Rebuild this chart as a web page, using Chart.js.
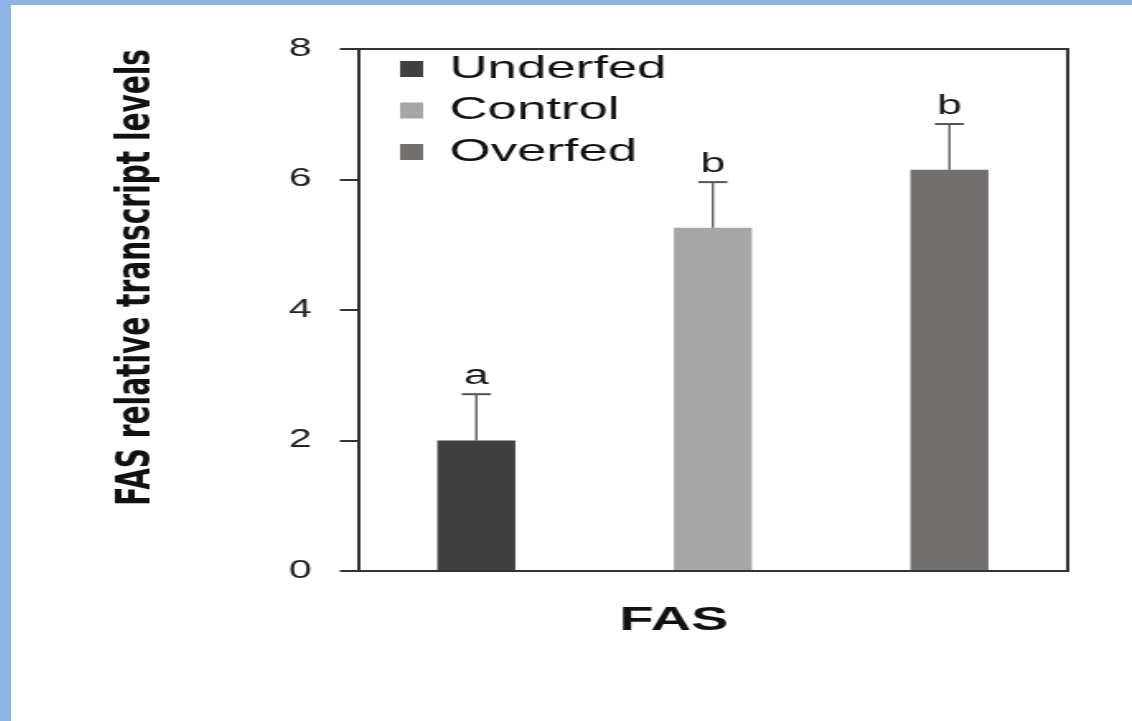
<!DOCTYPE html>
<html>
<head>
<meta charset="utf-8">
<title>FAS</title>
<script src="https://cdn.jsdelivr.net/npm/chart.js@4.4.1/dist/chart.umd.min.js"></script>
<style>
	html, body { margin: 0; padding: 0; background: #8eb4e3; }
	#frame {
		position: absolute; left: 11px; top: 5px;
		width: 1121px; height: 716px;
		background: #ffffff; overflow: hidden;
	}
	/* the figure is drawn narrow and widened sideways */
	#fasChart {
		position: absolute; left: 0; top: 0;
		width: 680px; height: 716px;
		transform-origin: 0 0;
		transform: scaleX(1.6485);
	}
</style>
</head>
<body>
<div id="frame"><canvas id="fasChart" width="680" height="716"></canvas></div>
<script>
// groups, means, error (upper) and letters of significance
const groups = ['Underfed', 'Control', 'Overfed'];
const meanLevels = [2.0, 5.26, 6.15];
const errLevels = [0.71, 0.70, 0.70];
const sigLetters = ['a', 'b', 'b'];
const groupColors = ['#404040', '#a6a6a6', '#747070'];
const yTicks = [0, 2, 4, 6, 8];

Chart.defaults.font.family = '"Liberation Sans", Arial, sans-serif';
Chart.defaults.color = '#1a1a1a';

// one dataset per group so the legend lists all three
const datasets = groups.map(function(name, i) {
	return {
		label: name,
		data: groups.map(function(_, j) { return j === i ? meanLevels[i] : null; }),
		backgroundColor: groupColors[i],
		borderColor: groupColors[i],
		borderWidth: 0,
		barPercentage: 0.33,
		categoryPercentage: 1.0,
		skipNull: true
	};
});

// error bars and letters above every bar
const errorBars = {
	id: 'errorBars',
	afterDatasetsDraw: function(chart) {
		const ctx = chart.ctx;
		const yScale = chart.scales.y;
		ctx.save();
		groups.forEach(function(_, i) {
			const bar = chart.getDatasetMeta(i).data[i];
			if (!bar) return;
			const x = bar.x;
			const yTop = yScale.getPixelForValue(meanLevels[i] + errLevels[i]);
			ctx.strokeStyle = '#555555';
			ctx.lineWidth = 1.3;
			ctx.beginPath();
			ctx.moveTo(x, bar.y);
			ctx.lineTo(x, yTop);
			ctx.stroke();
			ctx.lineWidth = 2;
			ctx.beginPath();
			ctx.moveTo(x - 8.8, yTop);
			ctx.lineTo(x + 8.8, yTop);
			ctx.stroke();
			ctx.fillStyle = '#1a1a1a';
			ctx.font = '27px "Liberation Sans", Arial, sans-serif';
			ctx.textAlign = 'center';
			ctx.textBaseline = 'bottom';
			ctx.fillText(sigLetters[i], x, yTop - 4);
		});
		ctx.restore();
	}
};

// top and right sides of the box
const boxFrame = {
	id: 'boxFrame',
	afterDraw: function(chart) {
		const a = chart.chartArea;
		const ctx = chart.ctx;
		ctx.save();
		ctx.strokeStyle = '#333333';
		ctx.lineWidth = 2;
		ctx.beginPath();
		ctx.moveTo(a.left, a.top);
		ctx.lineTo(a.right, a.top);
		ctx.stroke();
		ctx.beginPath();
		ctx.moveTo(a.right, a.top - 1);
		ctx.lineTo(a.right, a.bottom);
		ctx.stroke();
		ctx.restore();
	}
};

// place the legend inside the box, a little in from the corner
const legendNudge = {
	id: 'legendNudge',
	afterLayout: function(chart) {
		const lg = chart.legend;
		if (!lg) return;
		const a = chart.chartArea;
		const h = lg.bottom - lg.top;
		const w = lg.right - lg.left;
		lg.left = a.left + 16;
		lg.right = lg.left + w;
		lg.top = a.top - 5.5;
		lg.bottom = lg.top + h;
	}
};

new Chart(document.getElementById('fasChart'), {
	type: 'bar',
	data: { labels: groups, datasets: datasets },
	plugins: [legendNudge, errorBars, boxFrame],
	options: {
		responsive: false,
		animation: false,
		devicePixelRatio: 1,
		layout: { padding: { left: 0, right: 39, top: 44, bottom: 0 } },
		plugins: {
			tooltip: { enabled: false },
			legend: {
				position: 'chartArea',
				align: 'start',
				labels: {
					boxWidth: 14,
					boxHeight: 16,
					padding: 9.5,
					color: '#111111',
					font: { size: 32 }
				}
			}
		},
		scales: {
			x: {
				ticks: { display: false },
				grid: { display: false },
				border: { color: '#333333', width: 2 },
				title: {
					display: true,
					// trailing spaces pull the word a bit left of centre
					text: 'FAS     ',
					color: '#111111',
					font: { size: 34, weight: 'bold' },
					padding: { top: 0, bottom: 80 }
				},
				afterFit: function(scale) { scale.height = 150; }
			},
			y: {
				min: 0,
				max: 8,
				afterBuildTicks: function(scale) {
					scale.ticks = yTicks.map(function(v) { return { value: v }; });
				},
				ticks: {
					padding: 17,
					color: '#222222',
					font: { size: 25 }
				},
				grid: {
					drawOnChartArea: false,
					drawTicks: true,
					tickLength: 11,
					lineWidth: 2,
					color: '#333333'
				},
				border: { color: '#333333', width: 2 },
				title: {
					display: true,
					text: 'FAS relative transcript levels',
					align: 'end',
					color: '#111111',
					font: { family: '"DejaVu Sans", sans-serif', size: 28, weight: 'bold' },
					padding: { top: 60, bottom: 0 }
				},
				afterFit: function(scale) { scale.width = 210.5; }
			}
		}
	}
});
</script>
</body>
</html>
